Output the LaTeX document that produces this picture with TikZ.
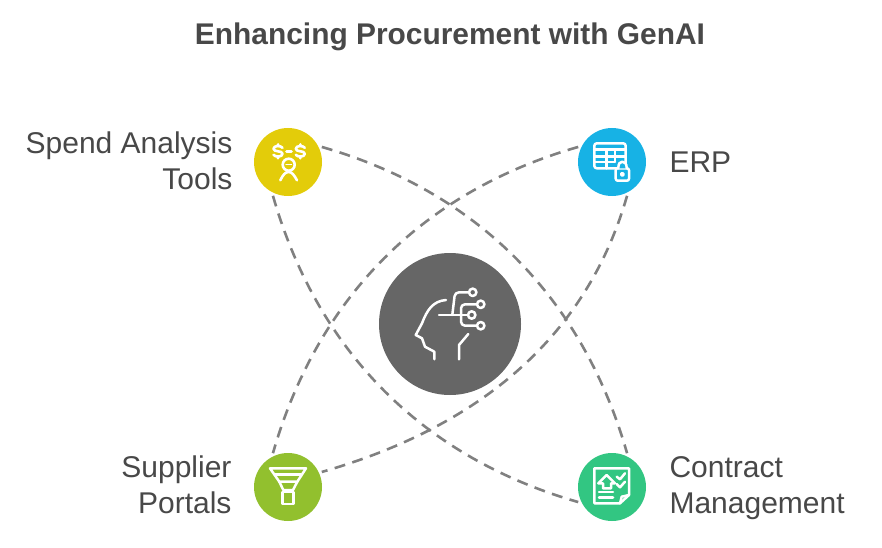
\documentclass[tikz,border=0pt]{standalone}
\usepackage{fontspec}
\setmainfont{Liberation Sans}
\usetikzlibrary{positioning}
\definecolor{spendc}{HTML}{E3CC0A}
\definecolor{erpc}{HTML}{17B2E5}
\definecolor{portalc}{HTML}{92C02E}
\definecolor{contractc}{HTML}{32C682}
\definecolor{hubc}{HTML}{666666}
\definecolor{textc}{HTML}{484848}
\definecolor{linkc}{HTML}{808080}

\begin{document}
\begin{tikzpicture}[x=1pt,y=1pt,
	spoke/.style={circle,minimum size=68pt,inner sep=0pt,outer sep=3pt},
	hub/.style={circle,fill=hubc,minimum size=142pt,inner sep=0pt},
	lbl/.style={text=textc,font=\fontsize{30}{36}\selectfont},
	link/.style={draw=linkc,line width=2.6pt,dash pattern=on 11pt off 7.5pt,looseness=.96},
	icon/.style={draw=white,line width=2.5pt,line join=round,line cap=round},]

    \useasboundingbox (0,0) rectangle (882,547);

    \node[lbl,font=\fontsize{29.9}{34}\bfseries\selectfont] (title) at (450,510) {Enhancing Procurement with GenAI};

    \node[hub] (genai) at (450,223) {};
    \node[spoke,fill=spendc] (spend) at (288,385) {};
    \node[spoke,fill=erpc] (erp) at (612,385) {};
    \node[spoke,fill=portalc] (portal) at (288,60) {};
    \node[spoke,fill=contractc] (contract) at (612,60) {};

    \node[lbl,align=right,left=15pt of spend,yshift=1pt] (spendlbl) {Spend Analysis\\Tools};
    \node[lbl,right=17pt of erp] (erplbl) {ERP};
    \node[lbl,align=right,left=16pt of portal,yshift=2pt] (portallbl) {Supplier\\Portals};
    \node[lbl,align=left,right=17pt of contract,yshift=-1pt] (contractlbl) {Contract\\Management};

    \draw[link] (spend.24) to[out=-16,in=106] (contract.66);
    \draw[link] (spend.-114) to[out=-74,in=164] (contract.-156);
    \draw[link] (erp.156) to[out=196,in=74] (portal.114);
    \draw[link] (erp.-66) to[out=-106,in=16] (portal.24);

    % head
    \begin{scope}[shift={(genai.center)},icon]
	\draw (-4,24) .. controls (-17,23) and (-23,14) .. (-28,0.7) -- (-34.3,-11) -- (-28,-14.3) -- (-25,-22.7) -- (-15.7,-27.7) -- (-15.7,-35.3);
	\draw (18.3,-10) -- (9,-21) -- (9,-35.3);
	\draw (-11,9) -- (18,9);
	\draw[rounded corners=4pt] (2.3,9) -- (5,31.7) -- (19,31.7);
	\draw[rounded corners=4pt] (11,9) -- (11,19.7) -- (27,19.7);
	\draw[rounded corners=4pt] (11,9) -- (11,-1.7) -- (27,-1.7);
	\foreach \dotx/\doty in {22.7/31.7,30.7/19.7,21.7/9,30.7/-1.7}
	    \draw (\dotx,\doty) circle (3.7);
    \end{scope}

    % money and person
    \begin{scope}[shift={(spend.center)},icon,line width=2.6pt]
	\foreach \sx in {-10,12.3}
	    \draw[shift={(\sx,10.7)}] (4.5,3.5) .. controls (3,6) and (-4.5,6) .. (-4.5,2.5) .. controls (-4.5,-1) and (4.5,1) .. (4.5,-2.5) .. controls (4.5,-6) and (-3,-6) .. (-4.5,-3.5) (0,5.5) -- (0,7) (0,-5.5) -- (0,-7);
	\draw (-1.5,10.7) -- (3.5,10.7);
	\draw (0.7,-2.7) circle (6);
	\draw[line width=1.5pt] (-2,-2.7) -- (3.4,-2.7);
	\draw (-7.7,-18.3) .. controls (-5,-13) and (-3,-10) .. (0.7,-10) .. controls (4,-10) and (6,-13) .. (9,-18.3);
    \end{scope}

    % table and lock
    \begin{scope}[shift={(erp.center)},icon]
	\draw[rounded corners=2.5pt] (-17.7,18.7) rectangle (13.7,-6.3);
	\draw[line width=3pt] (-17.7,12.7) -- (13.7,12.7);
	\draw (-17.7,5.3) -- (13.7,5.3) (-17.7,0) -- (3,0) (-5.3,12) -- (-5.3,-6.3) (3,12) -- (3,0);
	\draw[fill=erpc,rounded corners=2pt] (3.7,-6.3) rectangle (17,-18.7);
	\draw[fill=erpc] (6.3,-6.3) .. controls (6.3,-1.5) and (8,0.3) .. (10.3,0.3) .. controls (12.8,0.3) and (14.7,-1.5) .. (14.7,-6.3);
	\draw[fill=white] (10.3,-12.3) circle (1.4);
    \end{scope}

    % funnel
    \begin{scope}[shift={(portal.center)},icon]
	\draw (-18,18.7) -- (18,18.7) -- (9.3,5.3) -- (-8.7,5.3) -- cycle;
	\draw (-13,12.7) -- (13,12.7);
	\draw (-8.7,5.3) -- (-4.7,-3) -- (5,-3) -- (9.3,5.3);
	\draw (-5.3,-5) rectangle (5.3,-17);
    \end{scope}

    % document
    \begin{scope}[shift={(contract.center)},icon]
	\draw (-17.7,18.7) -- (17,18.7) -- (17,-8) -- (8,-16.3) -- (-17.7,-16.3) -- cycle;
	\draw (17,-8) -- (9.7,-9.7) -- (8,-16.3);
	\draw (-9,-1.3) -- (-9,3.7) -- (-13.7,3.7) -- (-5.3,12) -- (3,3.7) -- (-1,3.7) -- (-1,-1.3) -- cycle;
	\draw (-13,-5) -- (1,-5) (-13,-10.3) -- (1,-10.3);
	\draw (4.7,10.3) -- (8,7.7) -- (13,13.7);
	\draw (4.7,3) -- (8,-0.3) -- (13,5.3);
    \end{scope}
    \end{tikzpicture}
\end{document}
